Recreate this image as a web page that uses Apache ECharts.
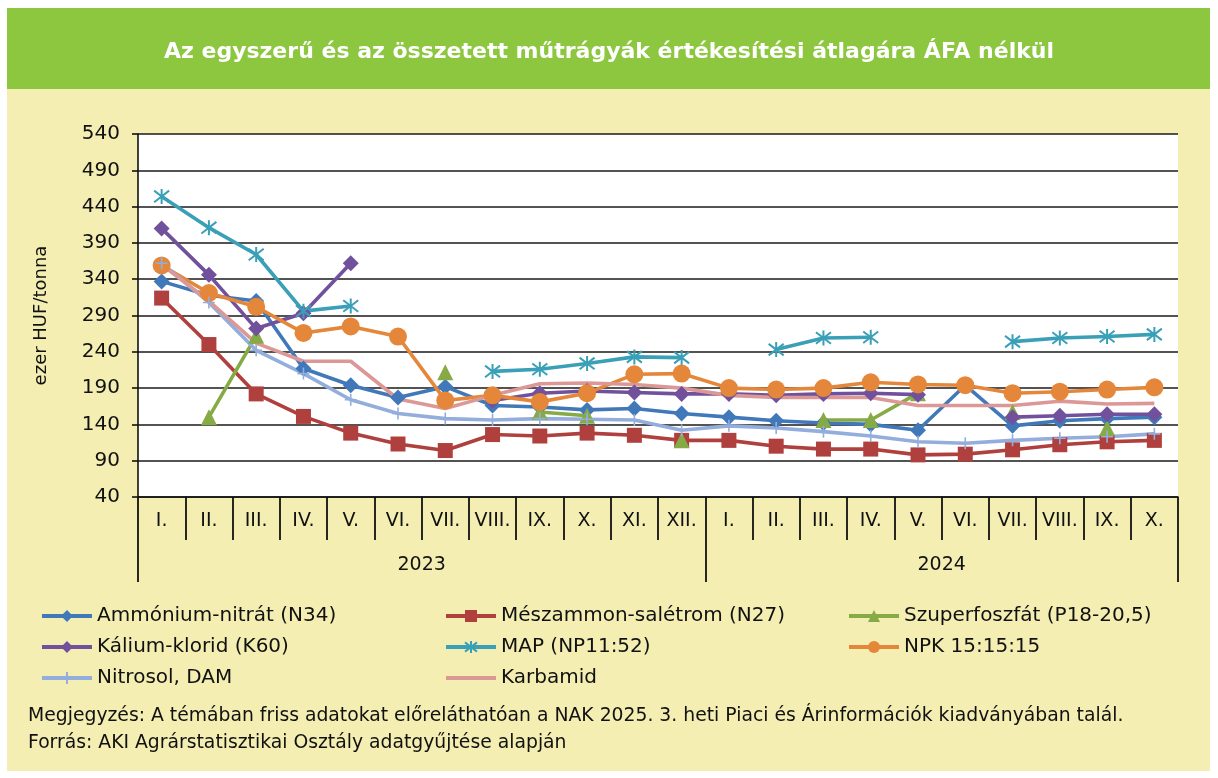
<!DOCTYPE html>
<html>
<head>
<meta charset="utf-8">
<script src="https://cdn.jsdelivr.net/npm/echarts@6/dist/echarts.min.js"></script>
<style>
  html, body { margin: 0; padding: 0; background: #fff; }
  .panel { position: absolute; left: 7px; top: 8px; width: 1203px; height: 763px; background: #F4EEB2; }
  .head { position: absolute; left: 7px; top: 8px; width: 1203px; height: 81px; background: #8DC63F; }
  #chart { position: absolute; left: 0; top: 0; width: 1218px; height: 778px; }
</style>
</head>
<body>
<div class="panel"></div>
<div class="head"></div>
<div id="chart"></div>
<script>
// hónapok (2023 I.–XII., 2024 I.–X.)
const months = ['I.','II.','III.','IV.','V.','VI.','VII.','VIII.','IX.','X.','XI.','XII.',
                'I.','II.','III.','IV.','V.','VI.','VII.','VIII.','IX.','X.']
const years = ['2023', '2024']
const yearTicks = [0, 12, 22]
const yearLabelPos = [6, 17]

// ezer HUF/tonna
const ammoniumNitrat = [337,318,310,217,194,177,192,166,164,160,162,155, 150,145,142,140,132,194,138,145,148,150]
const meszammon = [314,250,182,151,128,113,104,126,124,128,125,118, 118,110,106,106,98,99,105,112,116,118]
const szuperfoszfat = [null,150,262,null,null,null,212,null,157,152,null,118, null,null,146,146,183,null,157,null,135,null]
const kaliumKlorid = [410,346,272,293,362,null,null,173,183,186,184,182, 182,180,182,183,181,null,150,152,154,154]
const map = [454,411,374,296,303,null,null,213,216,224,233,232, null,243,259,260,null,null,254,259,261,264]
const npk = [359,321,302,266,275,261,173,180,171,183,209,210, 190,188,190,198,195,194,183,185,188,191]
const nitrosol = [362,308,242,210,174,155,148,146,148,147,146,132, 138,135,130,124,116,114,118,121,123,127]
const karbamid = [360,310,252,227,227,175,162,180,196,197,195,190, 180,177,177,177,166,166,166,172,168,169]

const FONT = 'DejaVu Sans'
const asterisk = 'path://M0,0L10,10M10,0L0,10M5,-1.5L5,11.5'
const plus = 'path://M5,0L5,10M0,5L10,5'

const chart = echarts.init(document.getElementById('chart'))

function line(name, data, color, symbol, size, extra) {
  return Object.assign({
    name: name,
    type: 'line',
    data: data,
    symbol: symbol,
    symbolSize: size,
    showAllSymbol: true,
    connectNulls: false,
    color: color,
    lineStyle: { color: color, width: 3.6 },
    itemStyle: { color: color },
    emphasis: { disabled: true }
  }, extra || {})
}

const legendBase = {
  orient: 'vertical',
  top: 601,
  itemWidth: 50,
  itemHeight: 15,
  itemGap: 11,
  lineStyle: { width: 4 },
  textStyle: { fontFamily: FONT, fontSize: 20, color: '#111' },
  selectedMode: false
}

chart.setOption({
  animation: false,
  title: {
    text: 'Az egyszerű és az összetett műtrágyák értékesítési átlagára ÁFA nélkül',
    left: 'center',
    top: 36,
    textStyle: { color: '#fff', fontFamily: FONT, fontSize: 22, fontWeight: 'bold' }
  },
  grid: {
    left: 138, right: 40, top: 134, bottom: 281,
    show: true, backgroundColor: '#fff', borderWidth: 0
  },
  legend: [
    Object.assign({ left: 35, data: ['Ammónium-nitrát (N34)', 'Kálium-klorid (K60)', 'Nitrosol, DAM'] }, legendBase),
    Object.assign({ left: 439, data: ['Mészammon-salétrom (N27)', 'MAP (NP11:52)',
      { name: 'Karbamid', itemStyle: { color: 'rgba(0,0,0,0)', borderWidth: 0 } }] }, legendBase),
    Object.assign({ left: 842, data: ['Szuperfoszfát (P18-20,5)', 'NPK 15:15:15'] }, legendBase)
  ],
  xAxis: [{
    type: 'category',
    data: months,
    boundaryGap: true,
    axisLine: { lineStyle: { color: '#111', width: 1.6 } },
    axisTick: { show: true, interval: 0, length: 43, lineStyle: { color: '#111', width: 1.8 } },
    axisLabel: { interval: 0, margin: 15, fontFamily: FONT, fontSize: 19, color: '#111' },
    splitLine: { show: false }
  }, {
    type: 'value',
    min: 0,
    max: 22,
    position: 'bottom',
    offset: 43,
    axisLine: { show: false },
    axisTick: { show: true, customValues: yearTicks, length: 42, lineStyle: { color: '#111', width: 1.8 } },
    axisLabel: {
      customValues: yearLabelPos, margin: 16, fontFamily: FONT, fontSize: 19, color: '#111',
      formatter: v => v === yearLabelPos[0] ? years[0] : years[1]
    },
    splitLine: { show: false }
  }],
  yAxis: {
    type: 'value',
    min: 40,
    max: 540,
    interval: 50,
    name: 'ezer HUF/tonna',
    nameLocation: 'middle',
    nameGap: 88,
    nameRotate: 90,
    nameTextStyle: { fontFamily: FONT, fontSize: 18, color: '#111' },
    axisLine: { show: true, lineStyle: { color: '#111', width: 1.6 } },
    axisTick: { show: true, length: 6, lineStyle: { color: '#111', width: 1.6 } },
    axisLabel: { margin: 18, fontFamily: FONT, fontSize: 20, color: '#111' },
    splitLine: { show: true, lineStyle: { color: '#1a1a1a', width: 1.6 } }
  },
  series: [
    line('Ammónium-nitrát (N34)', ammoniumNitrat, '#4178B9', 'diamond', 16),
    line('Mészammon-salétrom (N27)', meszammon, '#B0403D', 'rect', 15),
    line('Szuperfoszfát (P18-20,5)', szuperfoszfat, '#86AA45', 'triangle', 16),
    line('Kálium-klorid (K60)', kaliumKlorid, '#72519C', 'diamond', 16),
    line('MAP (NP11:52)', map, '#3AA0B7', asterisk, 15,
      { itemStyle: { color: '#3AA0B7', borderColor: '#3AA0B7', borderWidth: 2 } }),
    line('NPK 15:15:15', npk, '#E4873A', 'circle', 18),
    line('Nitrosol, DAM', nitrosol, '#93AEDC', plus, 12,
      { itemStyle: { color: '#93AEDC', borderColor: '#93AEDC', borderWidth: 1.6 } }),
    line('Karbamid', karbamid, '#DB9897', 'none', 0)
  ],
  graphic: [{
    type: 'text', left: 28, top: 707,
    style: { text: 'Megjegyzés: A témában friss adatokat előreláthatóan a NAK 2025. 3. heti Piaci és Árinformációk kiadványában talál.',
             fontFamily: FONT, fontSize: 18.8, fill: '#111' }
  }, {
    type: 'text', left: 28, top: 734,
    style: { text: 'Forrás: AKI Agrárstatisztikai Osztály adatgyűjtése alapján',
             fontFamily: FONT, fontSize: 18.8, fill: '#111' }
  }]
})
</script>
</body>
</html>
